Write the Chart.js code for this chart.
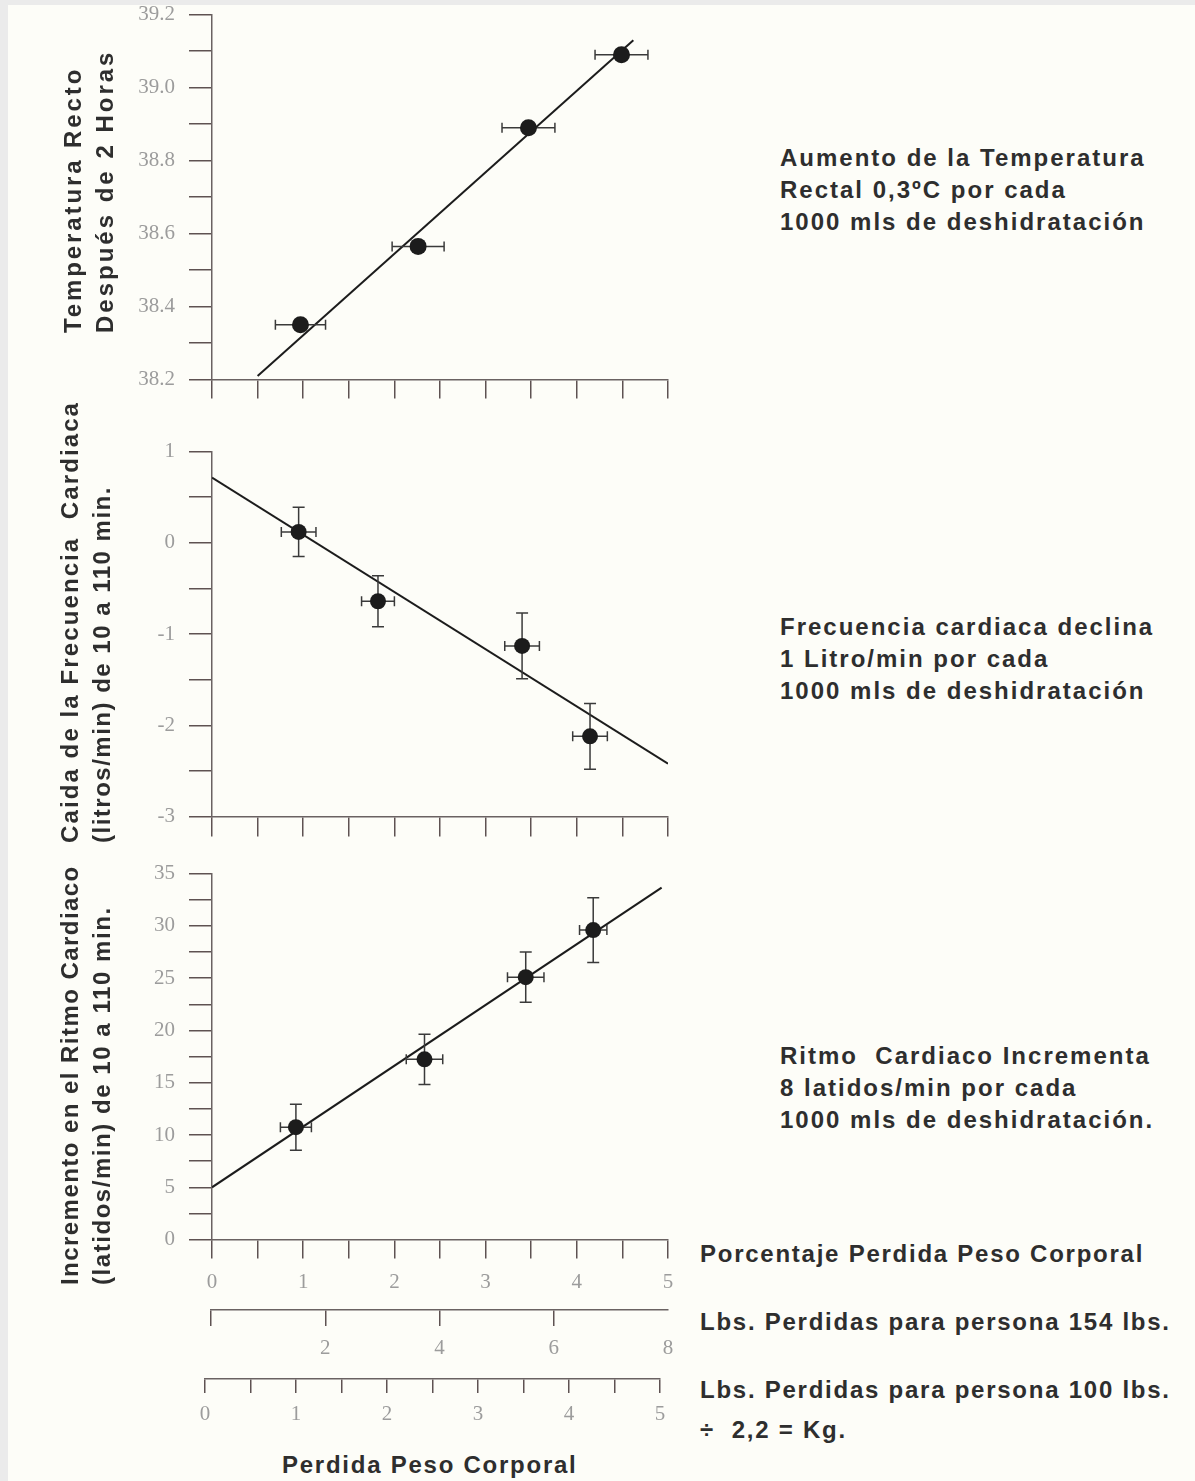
<!DOCTYPE html>
<html>
<head>
<meta charset="utf-8">
<script src="https://cdn.jsdelivr.net/npm/chart.js@4.4.0/dist/chart.umd.min.js"></script>
<style>
  body { margin: 0; background: #ebebeb; }
  #page { position: relative; width: 1195px; height: 1481px; overflow: hidden; }
  #paper { position: absolute; left: 8px; top: 5px; right: 0; bottom: 0; background: #fdfdf8; }
  canvas { position: absolute; left: 0; }
  .note { position: absolute; font-family: 'Liberation Sans', Arial, sans-serif; font-weight: bold;
          font-size: 24px; line-height: 32px; color: #2e2e2e; white-space: nowrap; letter-spacing: 2px; }
  .axisnote { letter-spacing: 1.75px; }
  .ytitle { position: absolute; transform-origin: left top; transform: rotate(-90deg);
            font-family: 'Liberation Sans', Arial, sans-serif; font-weight: bold; font-size: 24px;
            line-height: 32px; color: #2e2e2e; white-space: nowrap; }
  .ytitle span { display: block; }
</style>
</head>
<body>
<div id="page">
  <div id="paper"></div>

  <canvas id="tempChart" width="700" height="440" style="top:0px"></canvas>
  <canvas id="fcChart" width="700" height="440" style="top:425px"></canvas>
  <canvas id="rcChart" width="700" height="480" style="top:847px"></canvas>
  <canvas id="lbs154Chart" width="700" height="80" style="top:1290px"></canvas>
  <canvas id="lbs100Chart" width="700" height="80" style="top:1359px"></canvas>

  <div class="ytitle" style="left:57px; top:333px;">
    <span style="letter-spacing:2.9px">Temperatura Recto</span>
    <span style="letter-spacing:3px">Después de 2 Horas</span>
  </div>
  <div class="ytitle" style="left:54px; top:843px;">
    <span style="letter-spacing:2.1px">Caida de la Frecuencia&nbsp; Cardiaca</span>
    <span style="letter-spacing:1.5px">(litros/min) de 10 a 110 min.</span>
  </div>
  <div class="ytitle" style="left:54px; top:1285px;">
    <span style="letter-spacing:1.45px">Incremento en el Ritmo Cardiaco</span>
    <span style="letter-spacing:1.55px">(latidos/min) de 10 a 110 min.</span>
  </div>

  <div class="note" style="left:780px; top:142px;">Aumento de la Temperatura<br>Rectal 0,3ºC por cada<br>1000 mls de deshidratación</div>
  <div class="note" style="left:780px; top:611px;">Frecuencia cardiaca declina<br>1 Litro/min por cada<br>1000 mls de deshidratación</div>
  <div class="note" style="left:780px; top:1040px;">Ritmo&nbsp; Cardiaco Incrementa<br>8 latidos/min por cada<br>1000 mls de deshidratación.</div>

  <div class="note axisnote" style="left:700px; top:1238px;">Porcentaje Perdida Peso Corporal</div>
  <div class="note axisnote" style="left:700px; top:1306px;">Lbs. Perdidas para persona 154 lbs.</div>
  <div class="note axisnote" style="left:700px; top:1374px;">Lbs. Perdidas para persona 100 lbs.</div>
  <div class="note axisnote" style="left:700px; top:1414px;">÷&nbsp; 2,2 = Kg.</div>
  <div class="note axisnote" style="left:282px; top:1449px;">Perdida Peso Corporal</div>
</div>

<script>
// temperatura rectal despues de 2 horas
const tempPct = [0.97, 2.26, 3.47, 4.49];
const tempVal = [38.35, 38.565, 38.89, 39.09];
const tempPctErr = [0.275, 0.285, 0.29, 0.29];
const tempFitPct = [0.5, 4.62];
const tempFitVal = [38.21, 39.13];
const tempTickLabels = ['38.2', '38.4', '38.6', '38.8', '39.0', '39.2'];

// caida de la frecuencia cardiaca (litros/min)
const fcPct = [0.95, 1.82, 3.40, 4.145];
const fcVal = [0.12, -0.64, -1.13, -2.12];
const fcPctErr = [0.19, 0.18, 0.19, 0.19];
const fcValErr = [0.27, 0.28, 0.36, 0.36];
const fcFitPct = [0, 5];
const fcFitVal = [0.715, -2.42];
const fcTickLabels = ['-3', '-2', '-1', '0', '1'];

// incremento en el ritmo cardiaco (latidos/min)
const rcPct = [0.92, 2.33, 3.44, 4.18];
const rcVal = [10.75, 17.24, 25.1, 29.6];
const rcPctErr = [0.17, 0.2, 0.2, 0.15];
const rcValErr = [2.2, 2.4, 2.4, 3.1];
const rcFitPct = [0, 4.93];
const rcFitVal = [5.0, 33.66];
const rcTickLabels = ['0', '5', '10', '15', '20', '25', '30', '35'];

// ejes inferiores
const pctTickLabels = ['0', '1', '2', '3', '4', '5'];
const lbs154TickLabels = ['2', '4', '6', '8'];
const lbs154TickMarks = [0, 2, 4, 6];
const lbs100TickLabels = ['0', '1', '2', '3', '4', '5'];

const INK = '#1c1c1c';
const BAR = '#3a3a3a';
const TICK = '#5e5252';
const AXIS = '#6a6262';
const LABEL = '#9c9c9c';
const TICKFONT = { family: "'Liberation Serif', 'Times New Roman', serif", size: 21 };

function showLabel(list, v) {
  const hit = list.find(l => Math.abs(parseFloat(l) - v) < 1e-6);
  return hit === undefined ? '' : hit;
}

function panelDatasets(px, py, ex, ey, fx, fy, radius) {
  const sets = [];
  // recta de regresion
  sets.push({ data: fx.map((x, i) => ({ x: x, y: fy[i] })), showLine: true, pointRadius: 0,
              borderColor: INK, borderWidth: 2, order: 2 });
  px.forEach((x, i) => {
    sets.push({ data: [{ x: x - ex[i], y: py[i] }, { x: x + ex[i], y: py[i] }], showLine: true,
                borderColor: BAR, borderWidth: 1.5, pointStyle: 'line', pointRotation: 90,
                pointRadius: 5, pointBorderColor: BAR, pointBorderWidth: 1.5, order: 1 });
    if (ey) {
      sets.push({ data: [{ x: x, y: py[i] - ey[i] }, { x: x, y: py[i] + ey[i] }], showLine: true,
                  borderColor: BAR, borderWidth: 1.5, pointStyle: 'line', pointRotation: 0,
                  pointRadius: 6, pointBorderColor: BAR, pointBorderWidth: 1.5, order: 1 });
    }
  });
  sets.push({ data: px.map((x, i) => ({ x: x, y: py[i] })), showLine: false, pointRadius: radius,
              backgroundColor: INK, borderColor: INK, borderWidth: 0, order: 0 });
  return sets;
}

function yScale(min, max, step, labels) {
  return {
    type: 'linear', min: min, max: max,
    ticks: { stepSize: step, color: LABEL, font: TICKFONT, padding: 14, autoSkip: false,
             callback: v => showLabel(labels, v) },
    grid: { drawOnChartArea: false, color: TICK, lineWidth: 1.5, tickLength: 23 },
    border: { color: AXIS, width: 1.5 },
    afterFit: s => { s.width = 212; }
  };
}

function xScale(min, max, step, labels, show, height, pad, len) {
  return {
    type: 'linear', min: min, max: max,
    ticks: { stepSize: step, display: show, color: LABEL, font: TICKFONT, padding: pad,
             autoSkip: false, maxRotation: 0, callback: v => showLabel(labels, v) },
    grid: { drawOnChartArea: false, color: TICK, lineWidth: 1.5, tickLength: len },
    border: { color: AXIS, width: 1.5 },
    afterFit: s => { s.height = height; }
  };
}

// coloca el area del grafico entre pageTop y pageBottom (coordenadas de la pagina)
function fitArea(chart, pageTop, pageBottom) {
  const h = pageBottom - pageTop;
  for (let k = 0; k < 4; k++) {
    const a = chart.chartArea;
    chart.options.layout.padding.bottom += a.bottom - (a.top + h);
    chart.update();
  }
  chart.canvas.style.top = (pageTop - chart.chartArea.top) + 'px';
}

const base = {
  responsive: false,
  animation: false,
  plugins: { legend: { display: false }, tooltip: { enabled: false } },
  events: []
};

const tempChart = new Chart(document.getElementById('tempChart'), {
  type: 'scatter',
  data: { datasets: panelDatasets(tempPct, tempVal, tempPctErr, null, tempFitPct, tempFitVal, 8.5) },
  options: Object.assign({}, base, {
    layout: { padding: { top: 0, right: 32, left: 0, bottom: 0 } },
    scales: {
      x: xScale(0, 5, 0.5, pctTickLabels, false, 20, 0, 19),
      y: yScale(38.2, 39.2, 0.1, tempTickLabels)
    }
  })
});
fitArea(tempChart, 15, 380);

const fcChart = new Chart(document.getElementById('fcChart'), {
  type: 'scatter',
  data: { datasets: panelDatasets(fcPct, fcVal, fcPctErr, fcValErr, fcFitPct, fcFitVal, 8) },
  options: Object.assign({}, base, {
    layout: { padding: { top: 0, right: 32, left: 0, bottom: 0 } },
    scales: {
      x: xScale(0, 5, 0.5, pctTickLabels, false, 20, 0, 20),
      y: yScale(-3, 1, 0.5, fcTickLabels)
    }
  })
});
fitArea(fcChart, 452, 817);

const rcChart = new Chart(document.getElementById('rcChart'), {
  type: 'scatter',
  data: { datasets: panelDatasets(rcPct, rcVal, rcPctErr, rcValErr, rcFitPct, rcFitVal, 8) },
  options: Object.assign({}, base, {
    layout: { padding: { top: 0, right: 32, left: 0, bottom: 0 } },
    scales: {
      x: xScale(0, 5, 0.5, pctTickLabels, true, 59, 11, 19),
      y: yScale(0, 35, 2.5, rcTickLabels)
    }
  })
});
fitArea(rcChart, 874, 1240);

// eje de libras perdidas, persona de 154 lbs
const lbs154X = xScale(0, 8, 2, lbs154TickLabels, true, 60, 10, 16);
lbs154X.grid.color = ctx => (ctx.tick && lbs154TickMarks.includes(ctx.tick.value)) ? TICK : 'rgba(0,0,0,0)';
new Chart(document.getElementById('lbs154Chart'), {
  type: 'scatter',
  data: { datasets: [] },
  options: Object.assign({}, base, {
    layout: { padding: { top: 0, right: 32, left: 211, bottom: 0 } },
    scales: {
      x: lbs154X,
      y: { display: false, min: 0, max: 1 }
    }
  })
});

// eje de libras perdidas, persona de 100 lbs
new Chart(document.getElementById('lbs100Chart'), {
  type: 'scatter',
  data: { datasets: [] },
  options: Object.assign({}, base, {
    layout: { padding: { top: 0, right: 40, left: 205, bottom: 0 } },
    scales: {
      x: xScale(0, 5, 0.5, lbs100TickLabels, true, 60, 9, 14),
      y: { display: false, min: 0, max: 1 }
    }
  })
});
</script>
</body>
</html>
